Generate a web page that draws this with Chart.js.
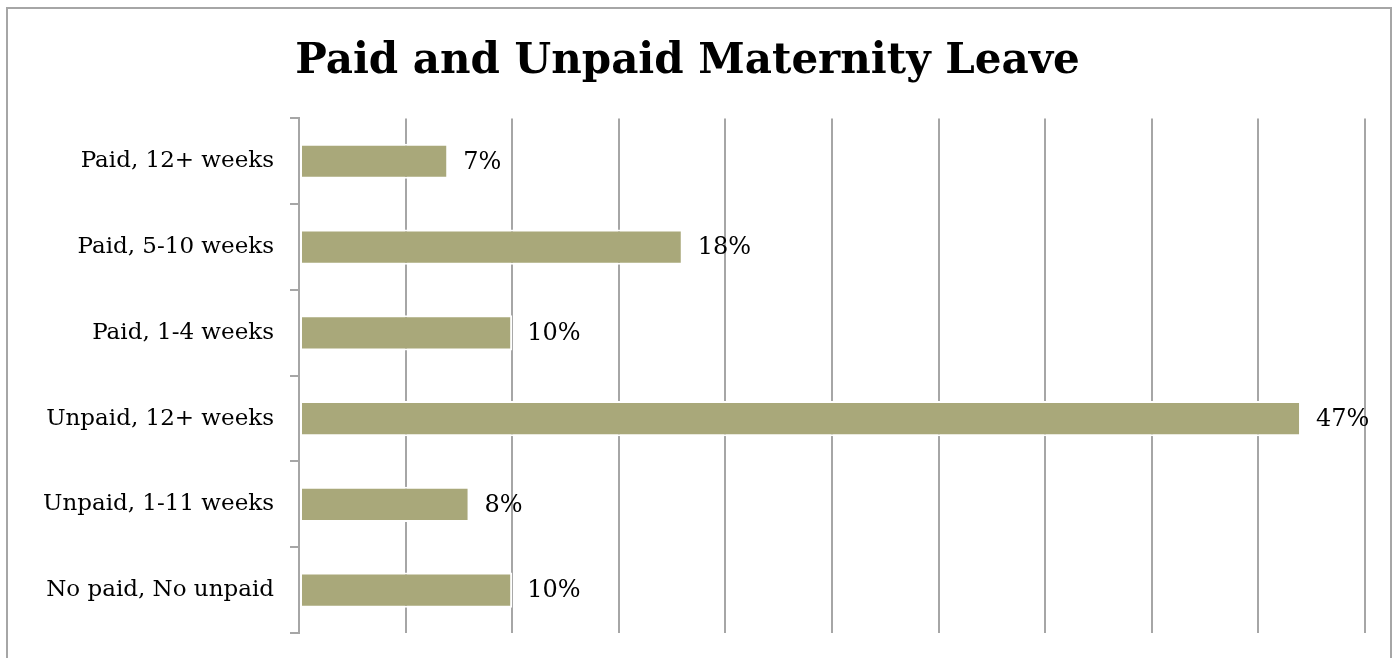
<!DOCTYPE html>
<html>
<head>
<meta charset="utf-8">
<script src="https://cdn.jsdelivr.net/npm/chart.js@4.4.1/dist/chart.umd.min.js"></script>
<style>
  html, body { margin: 0; padding: 0; background: #fff; }
  #wrap { width: 1395px; height: 658px; position: relative; }
</style>
</head>
<body>
<div id="wrap"><canvas id="c"></canvas></div>
<script>
// ===== DATA =====
const categories = ["Paid, 12+ weeks", "Paid, 5-10 weeks", "Paid, 1-4 weeks", "Unpaid, 12+ weeks", "Unpaid, 1-11 weeks", "No paid, No unpaid"];
const percents = [7, 18, 10, 47, 8, 10];
const axisMax = 50;
const axisStep = 5;

const labelFont = '"DejaVu Serif", "Liberation Serif", serif';

// frame round the whole chart
const framePlugin = {
  id: 'frame',
  beforeDraw(chart) {
    const ctx = chart.ctx;
    ctx.save();
    ctx.strokeStyle = '#a6a6a6';
    ctx.lineWidth = 2;
    ctx.strokeRect(7, 8, 1384, 700);
    ctx.restore();
  }
};

// percent labels after each bar
const valueLabels = {
  id: 'valueLabels',
  afterDatasetsDraw(chart) {
    const ctx = chart.ctx;
    const meta = chart.getDatasetMeta(0);
    ctx.save();
    ctx.font = '24px ' + labelFont;
    ctx.fillStyle = '#000';
    ctx.textBaseline = 'middle';
    ctx.textAlign = 'left';
    meta.data.forEach((bar, i) => {
      ctx.fillText(percents[i] + '%', bar.x + 15, bar.y + 1);
    });
    ctx.restore();
  }
};

new Chart(document.getElementById('c'), {
  type: 'bar',
  data: {
    labels: categories,
    datasets: [{
      data: percents,
      backgroundColor: '#a9a87a',
      borderColor: '#ffffff',
      borderWidth: 2,
      borderSkipped: false,
      categoryPercentage: 1,
      barPercentage: 0.41
    }]
  },
  options: {
    indexAxis: 'y',
    responsive: true,
    maintainAspectRatio: false,
    animation: false,
    layout: { padding: { left: 10, right: 30, bottom: 25, top: 0 } },
    plugins: {
      legend: { display: false },
      tooltip: { enabled: false },
      title: {
        display: true,
        text: 'Paid and Unpaid Maternity Leave',
        color: '#000',
        font: { family: labelFont, size: 42, weight: 'bold' },
        padding: { top: 37, bottom: 31 }
      }
    },
    scales: {
      x: {
        min: 0,
        max: axisMax,
        afterFit(scale) { scale.height = 0; scale.paddingLeft = 0; scale.paddingRight = 0; },
        ticks: { display: false, stepSize: axisStep },
        grid: { color: '#a6a6a6', lineWidth: 2, drawTicks: false },
        border: { display: false }
      },
      y: {
        afterFit(scale) { scale.width = 289; scale.paddingTop = 0; scale.paddingBottom = 0; },
        ticks: { color: '#000', font: { family: labelFont, size: 23 }, padding: 16 },
        grid: { drawOnChartArea: false, color: '#a6a6a6', lineWidth: 2, tickLength: 9 },
        border: { color: '#a6a6a6', width: 2 }
      }
    }
  },
  plugins: [framePlugin, valueLabels]
});
</script>
</body>
</html>
